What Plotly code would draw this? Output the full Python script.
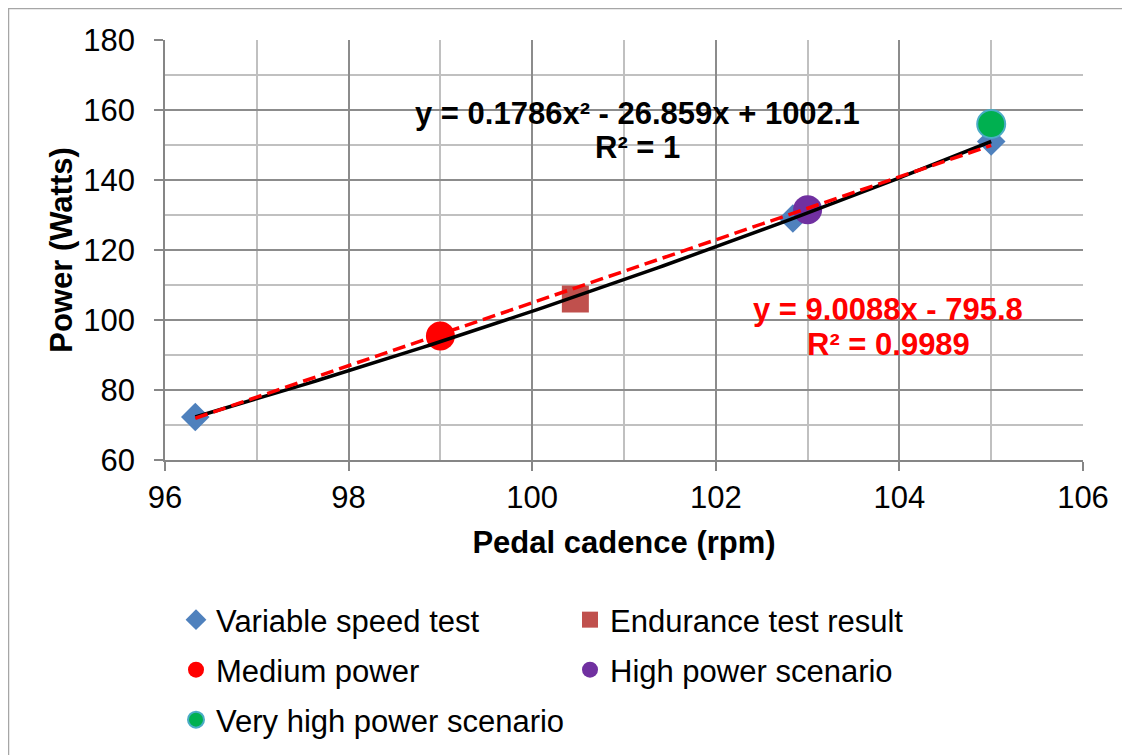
import numpy as np
import plotly.graph_objects as go

# ---- data ----
var_x = [96.33, 102.84, 105.0]
var_y = [72.3, 129.0, 151.0]
endur_x = [100.47]
endur_y = [106.0]
med_x = [99.0]
med_y = [95.4]
high_x = [103.0]
high_y = [131.5]
vhigh_x = [105.0]
vhigh_y = [156.0]

FONT = "Liberation Sans, Arial, sans-serif"
FS = 31

# fits from the variable speed data
q = np.polyfit(var_x, var_y, 2)
l = np.polyfit(var_x, var_y, 1)
xs = np.linspace(min(var_x), max(var_x), 120)

fig = go.Figure()
fig.add_trace(go.Scatter(x=var_x, y=var_y, mode="markers", name="Variable speed test", legend="legend",
                         marker=dict(symbol="diamond", size=22, color="#4F81BD")))
fig.add_trace(go.Scatter(x=endur_x, y=endur_y, mode="markers", name="Endurance test result", legend="legend",
                         marker=dict(symbol="square", size=27, color="#C0504D")))
fig.add_trace(go.Scatter(x=med_x, y=med_y, mode="markers", name="Medium power", legend="legend2",
                         marker=dict(symbol="circle", size=29, color="#FF0000")))
fig.add_trace(go.Scatter(x=high_x, y=high_y, mode="markers", name="High power scenario", legend="legend2",
                         marker=dict(symbol="circle", size=29, color="#7030A0")))
fig.add_trace(go.Scatter(x=vhigh_x, y=vhigh_y, mode="markers", name="Very high power scenario", legend="legend3",
                         marker=dict(symbol="circle", size=28, color="#00B050",
                                     line=dict(color="#4BACC6", width=2))))
fig.add_trace(go.Scatter(x=xs, y=np.polyval(q, xs), mode="lines",
                         line=dict(color="black", width=3.5), showlegend=False, hoverinfo="skip"))
fig.add_trace(go.Scatter(x=xs, y=np.polyval(l, xs), mode="lines",
                         line=dict(color="#FF0000", width=3.5, dash="13px,6px"), showlegend=False, hoverinfo="skip"))

fig.add_annotation(x=101.15, y=159.1, text="<b>y = 0.1786x² - 26.859x + 1002.1</b>",
                   showarrow=False, font=dict(family=FONT, size=FS, color="black"))
fig.add_annotation(x=101.15, y=149.3, text="<b>R² = 1</b>",
                   showarrow=False, font=dict(family=FONT, size=FS, color="black"))
fig.add_annotation(x=103.88, y=103.1, text="<b>y = 9.0088x - 795.8</b>",
                   showarrow=False, font=dict(family=FONT, size=FS, color="#FF0000"))
fig.add_annotation(x=103.88, y=92.9, text="<b>R² = 0.9989</b>",
                   showarrow=False, font=dict(family=FONT, size=FS, color="#FF0000"))

# geometry (figure px; page adds ~8px body offset)
L, T, PW, PH = 157, 32, 918, 420

# outer chart border (left/top visible)
fig.add_shape(type="rect", xref="paper", yref="paper",
              x0=(0.5 - L) / PW, x1=1.2, y0=-1.0, y1=1 + (T - 0.5) / PH,
              line=dict(color="#A6A6A6", width=1.5), fillcolor="rgba(0,0,0,0)", layer="below")

axis_common = dict(showline=True, linecolor="#868686", linewidth=1.5,
                   gridcolor="#8C8C8C", gridwidth=1.5, zeroline=False,
                   ticks="outside", ticklen=9, tickcolor="#868686", tickwidth=1.5,
                   tickfont=dict(family=FONT, size=FS, color="black"))

fig.update_xaxes(range=[96, 106], dtick=2, tick0=96,
                 minor=dict(dtick=1, showgrid=True, gridcolor="#C0C0C0", gridwidth=1.5, ticks=""),
                 title=dict(text="<b>Pedal cadence (rpm)</b>", font=dict(family=FONT, size=FS, color="black"),
                            standoff=17),
                 ticklabelstandoff=0, **axis_common)
fig.update_yaxes(range=[60, 180], dtick=20, tick0=60,
                 minor=dict(dtick=10, showgrid=True, gridcolor="#C0C0C0", gridwidth=1.5, ticks=""),
                 title=dict(text="<b>Power (Watts)</b>", font=dict(family=FONT, size=FS, color="black"),
                            standoff=1),
                 ticklabelstandoff=13, **axis_common)

def row_legend(yc):
    return dict(orientation="h", x=(168 - L) / PW, y=1 - (yc - T) / PH, xanchor="left", yanchor="middle",
                entrywidth=349, entrywidthmode="pixels", itemwidth=30,
                font=dict(family=FONT, size=FS, color="black"), bgcolor="rgba(0,0,0,0)")

fig.update_layout(
    width=1130, height=755,
    margin=dict(l=L, r=1130 - L - PW, t=T, b=755 - T - PH),
    plot_bgcolor="white", paper_bgcolor="white",
    font=dict(family=FONT, size=FS, color="black"),
    legend=row_legend(612),
    legend2=row_legend(662),
    legend3=row_legend(712),
    showlegend=True,
)

fig.write_html("out.html")
